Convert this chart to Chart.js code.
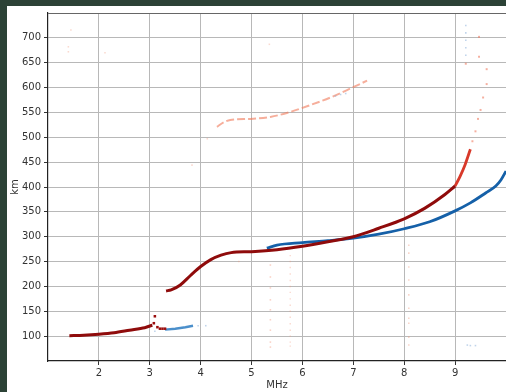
<!DOCTYPE html>
<html>
<head>
<meta charset="utf-8">
<script src="https://cdn.jsdelivr.net/npm/chart.js@4"></script>
<style>
  html, body { margin: 0; padding: 0; background: #2c4236; }
  #wrap { position: absolute; left: 7px; top: 6px; width: 499px; height: 386px; background: #fff; }
</style>
</head>
<body>
<div id="wrap"><canvas id="myChart" width="499" height="386"></canvas></div>
<script>
// main red trace (strong echo), low part and high part
const redLowX = [1.42, 1.7, 2.0, 2.3, 2.6, 2.9, 3.05];
const redLowY = [101, 102, 104, 107, 112, 117, 122];
const redSpikeX = [3.08, 3.1, 3.15, 3.2, 3.25, 3.3];
const redSpikeY = [126, 140, 118, 115, 115, 115];
const redHighX = [3.32, 3.42, 3.6, 3.8, 4.0, 4.2, 4.4, 4.6, 5.0, 5.5, 6.0, 6.5, 7.0, 7.5, 8.0, 8.4, 8.8, 9.0];
const redHighY = [191, 193, 203, 222, 240, 254, 263, 268, 270, 274, 281, 290, 300, 317, 336, 357, 385, 402];
const redTipX = [9.0, 9.1, 9.2, 9.3];
const redTipY = [402, 422, 446, 476];
const redFaintX = [9.34, 9.4, 9.45, 9.5, 9.55, 9.62, 9.62, 9.47, 9.47, 9.21];
const redFaintY = [492, 512, 537, 555, 580, 607, 637, 662, 702, 648];

// blue trace
const blueX = [5.3, 5.5, 6.0, 6.5, 7.0, 7.5, 8.0, 8.5, 9.0, 9.3, 9.6, 9.8, 9.9, 10.0];
const blueY = [277, 283, 288, 292, 297, 305, 316, 330, 352, 368, 388, 402, 414, 432];
const blueLowX = [3.3, 3.5, 3.7, 3.85];
const blueLowY = [113, 115, 118, 121];
const blueFaintX = [3.1, 3.95, 4.1, 9.21, 9.21, 9.21, 9.21, 9.21, 9.24, 9.3, 9.4, 6.65, 6.75, 6.85];
const blueFaintY = [110, 121, 121, 725, 710, 695, 680, 665, 82, 81, 81, 583, 586, 588];

// upper (second hop) trace
const upperX = [4.32, 4.45, 4.58, 4.98, 5.37, 5.76, 6.16, 6.55, 6.94, 7.27];
const upperY = [521, 530, 535, 537, 541, 551, 565, 580, 598, 614];

// faint vertical columns and stray points
const colAX = 5.37;
const colAY = [243, 219, 197, 173, 153, 133, 112, 88, 78];
const colBX = 5.76;
const colBY = [262, 250, 238, 225, 212, 200, 188, 175, 162, 150, 138, 125, 112, 100, 88, 80];
const colCX = 8.09;
const colCY = [283, 267, 239, 213, 183, 156, 136, 126, 98, 82];
const strayX = [1.4, 1.4, 1.45, 2.12, 3.83, 4.13, 5.35, 4.75];
const strayY = [672, 682, 716, 670, 444, 497, 687, 250];

const pts = (xs, ys) => xs.map((x, i) => ({ x: x, y: ys[i] }));
const col = (x, ys) => ys.map(y => ({ x: x, y: y }));

const ctx = document.getElementById('myChart').getContext('2d');

const myChart = new Chart(ctx, {
  type: 'scatter',
  data: {
    datasets: [
      { data: pts(redLowX, redLowY), showLine: true, borderColor: '#8f0b0b', borderWidth: 3, pointRadius: 0, tension: 0.3, order: 1 },
      { data: pts(redSpikeX, redSpikeY), backgroundColor: '#9a0d0d', borderWidth: 0, pointStyle: 'rect', pointRadius: 1.8, order: 1 },
      { data: pts(redHighX, redHighY), showLine: true, borderColor: '#8f0b0b', borderWidth: 3, pointRadius: 0, cubicInterpolationMode: 'monotone', order: 1 },
      { data: pts(redTipX, redTipY), showLine: true, borderColor: '#d8392a', borderWidth: 2.8, pointRadius: 0, cubicInterpolationMode: 'monotone', order: 2 },
      { data: pts(redFaintX, redFaintY), backgroundColor: 'rgba(236,110,80,0.55)', borderWidth: 0, pointStyle: 'rect', pointRadius: 1.4, order: 2 },
      { data: pts(blueX, blueY), showLine: true, borderColor: '#1560a8', borderWidth: 2.8, pointRadius: 0, cubicInterpolationMode: 'monotone', order: 3 },
      { data: pts(blueLowX, blueLowY), showLine: true, borderColor: '#4b8fcb', borderWidth: 2.4, pointRadius: 0, order: 3 },
      { data: pts(blueFaintX, blueFaintY), backgroundColor: 'rgba(130,170,215,0.5)', borderWidth: 0, pointStyle: 'rect', pointRadius: 1.1, order: 4 },
      { data: pts(upperX, upperY), showLine: true, borderColor: 'rgba(240,120,88,0.6)', borderWidth: 2, borderDash: [8, 3], pointRadius: 0, cubicInterpolationMode: 'monotone', order: 4 },
      { data: col(colAX, colAY), backgroundColor: 'rgba(240,140,110,0.4)', borderWidth: 0, pointStyle: 'rect', pointRadius: 1.1, order: 5 },
      { data: col(colBX, colBY), backgroundColor: 'rgba(240,150,120,0.35)', borderWidth: 0, pointStyle: 'rect', pointRadius: 1, order: 5 },
      { data: col(colCX, colCY), backgroundColor: 'rgba(240,150,120,0.4)', borderWidth: 0, pointStyle: 'rect', pointRadius: 1.1, order: 5 },
      { data: pts(strayX, strayY), backgroundColor: 'rgba(240,150,120,0.35)', borderWidth: 0, pointStyle: 'rect', pointRadius: 1.1, order: 5 }
    ]
  },
  options: {
    responsive: false,
    animation: false,
    layout: { autoPadding: false, padding: { top: 7, left: 0, right: 0, bottom: 0 } },
    plugins: { legend: { display: false }, tooltip: { enabled: false } },
    scales: {
      x: {
        type: 'linear',
        min: 1, max: 10,
        afterFit: s => { s.height = 31; s.paddingLeft = 0; s.paddingRight = 0; },
        border: { color: '#222', width: 1.2 },
        grid: {
          color: c => (c.tick && (c.tick.value === 1 || c.tick.value === 10)) ? 'rgba(0,0,0,0)' : '#b8b8b8',
          tickColor: c => (c.tick && (c.tick.value === 1 || c.tick.value === 10)) ? 'rgba(0,0,0,0)' : '#333',
          tickLength: 4
        },
        ticks: {
          stepSize: 1, autoSkip: false, maxRotation: 0, padding: 2,
          color: '#333', font: { family: 'DejaVu Sans', size: 10 },
          callback: v => (v === 1 || v === 10) ? '' : v
        },
        title: { display: true, text: 'MHz', color: '#333', font: { family: 'DejaVu Sans', size: 10 }, padding: { top: 0, bottom: 1 } }
      },
      y: {
        min: 50, max: 750,
        afterFit: s => { s.width = 41; s.paddingTop = 0; s.paddingBottom = 0; },
        border: { color: '#222', width: 1.2 },
        grid: {
          color: c => (c.tick && c.tick.value === 750) ? '#666' : (c.tick && c.tick.value === 50 ? 'rgba(0,0,0,0)' : '#b8b8b8'),
          tickColor: c => (c.tick && (c.tick.value === 50 || c.tick.value === 750)) ? 'rgba(0,0,0,0)' : '#333',
          tickLength: 4
        },
        ticks: {
          stepSize: 50, autoSkip: false, padding: 3,
          color: '#333', font: { family: 'DejaVu Sans', size: 10 },
          callback: v => (v === 50 || v === 750) ? '' : v
        },
        title: { display: true, text: 'km', color: '#333', font: { family: 'DejaVu Sans', size: 10 }, padding: { top: 2, bottom: 0 } }
      }
    }
  }
});
</script>
</body>
</html>
